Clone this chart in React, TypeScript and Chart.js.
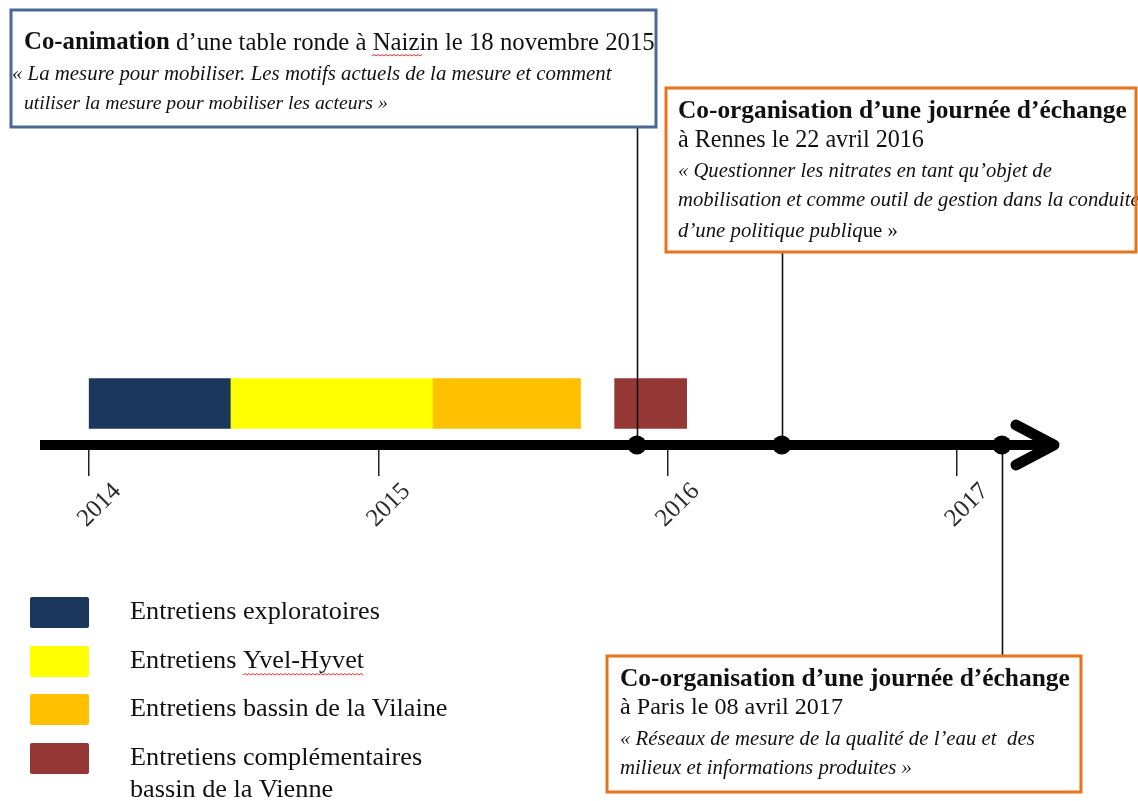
import React, { useEffect, useRef } from 'react';
import { Chart, registerables } from 'chart.js';

Chart.register(...registerables);

// ---- data ----
const phaseLabels = [
  'Entretiens exploratoires',
  'Entretiens Yvel-Hyvet',
  'Entretiens bassin de la Vilaine',
  'Entretiens complémentaires bassin de la Vienne',
];
const phaseStart = [2014.0, 2014.488, 2015.187, 2015.817];
const phaseEnd = [2014.488, 2015.187, 2015.699, 2016.066];
const phaseColors = ['#1b375d', '#ffff00', '#ffc000', '#953735'];
const eventDates = [2015.894, 2016.395, 2017.156];
const tickYears = [2014, 2015, 2016, 2017];
const axisStart = 2013.83;
const axisEnd = 2017.35;

type Run = { t: string; b?: boolean; i?: boolean };
type Line = { runs: Run[]; y: number; x: number; w: number };

const box1Lines: Line[] = [
  { runs: [{ t: 'Co-animation', b: true }, { t: ' d\u2019une table ronde à Naizin le 18 novembre 2015' }], x: 24, y: 43, w: 631 },
  { runs: [{ t: '« La mesure pour mobiliser. Les motifs actuels de la mesure et comment', i: true }], x: 12, y: 75, w: 600 },
  { runs: [{ t: 'utiliser la mesure pour mobiliser les acteurs »', i: true }], x: 24, y: 104, w: 364 },
];
const box2Lines: Line[] = [
  { runs: [{ t: 'Co-organisation d\u2019une journée d\u2019échange', b: true }], x: 678, y: 111, w: 449 },
  { runs: [{ t: 'à Rennes le 22 avril 2016' }], x: 678, y: 141, w: 246 },
  { runs: [{ t: '« Questionner les nitrates en tant qu\u2019objet de', i: true }], x: 678, y: 172, w: 374 },
  { runs: [{ t: 'mobilisation et comme outil de gestion dans la conduite', i: true }], x: 678, y: 201, w: 462 },
  { runs: [{ t: 'd\u2019une politique publiq', i: true }, { t: 'ue »' }], x: 678, y: 232, w: 220 },
];
const box3Lines: Line[] = [
  { runs: [{ t: 'Co-organisation d\u2019une journée d\u2019échange', b: true }], x: 620, y: 679, w: 450 },
  { runs: [{ t: 'à Paris le 08 avril 2017' }], x: 620, y: 708, w: 223 },
  { runs: [{ t: '« Réseaux de mesure de la qualité de l\u2019eau et  des', i: true }], x: 620, y: 740, w: 415 },
  { runs: [{ t: 'milieux et informations produites »', i: true }], x: 620, y: 769, w: 292 },
];

const FAMILY = '"Liberation Serif", "DejaVu Serif", serif';

function fontOf(r: Run, size: number) {
  return `${r.i ? 'italic ' : ''}${r.b ? 'bold ' : ''}${size}px ${FAMILY}`;
}
function runsWidth(ctx: CanvasRenderingContext2D, runs: Run[], size: number) {
  let w = 0;
  for (const r of runs) {
    ctx.font = fontOf(r, size);
    w += ctx.measureText(r.t).width;
  }
  return w;
}
function drawLine(ctx: CanvasRenderingContext2D, l: Line) {
  const size = (20 * l.w) / runsWidth(ctx, l.runs, 20);
  let cx = l.x;
  ctx.textBaseline = 'middle';
  ctx.textAlign = 'left';
  ctx.fillStyle = '#111';
  for (const r of l.runs) {
    ctx.font = fontOf(r, size);
    ctx.fillText(r.t, cx, l.y);
    cx += ctx.measureText(r.t).width;
  }
}
function squiggle(ctx: CanvasRenderingContext2D, x1: number, x2: number, y: number) {
  ctx.save();
  ctx.strokeStyle = '#e03030';
  ctx.lineWidth = 1;
  ctx.beginPath();
  let up = true;
  ctx.moveTo(x1, y);
  for (let x = x1 + 2; x <= x2; x += 2) {
    ctx.lineTo(x, up ? y - 1.5 : y);
    up = !up;
  }
  ctx.stroke();
  ctx.restore();
}
function drawBox(ctx: CanvasRenderingContext2D, x: number, y: number, w: number, h: number, color: string, lines: Line[]) {
  ctx.save();
  ctx.fillStyle = '#fff';
  ctx.fillRect(x, y, w, h);
  lines.forEach((l) => drawLine(ctx, l));
  ctx.strokeStyle = color;
  ctx.lineWidth = 3;
  ctx.strokeRect(x, y, w, h);
  ctx.restore();
}

const timelinePlugin = {
  id: 'timelineDecor',
  beforeDatasetDraw(chart: any, args: any) {
    if (args.index !== 0) return;
    const ctx: CanvasRenderingContext2D = chart.ctx;
    const xs = chart.scales.x;
    const ys = chart.scales.y;
    const y0 = ys.getPixelForValue(0);
    // arrow head
    const tip = xs.getPixelForValue(axisEnd);
    ctx.save();
    ctx.strokeStyle = '#000';
    ctx.lineWidth = 11;
    ctx.lineCap = 'round';
    ctx.lineJoin = 'round';
    ctx.beginPath();
    ctx.moveTo(tip - 42, y0 - 20);
    ctx.lineTo(tip - 4, y0);
    ctx.lineTo(tip - 42, y0 + 20);
    ctx.stroke();
    // connectors
    ctx.lineWidth = 1.6;
    ctx.lineCap = 'butt';
    ctx.strokeStyle = '#111';
    const targets = [127, 252, 656];
    eventDates.forEach((d, i) => {
      const px = Math.round(xs.getPixelForValue(d)) + 0.5;
      ctx.beginPath();
      ctx.moveTo(px, y0);
      ctx.lineTo(px, targets[i]);
      ctx.stroke();
    });
    ctx.restore();
  },
  afterDraw(chart: any) {
    const ctx: CanvasRenderingContext2D = chart.ctx;
    drawBox(ctx, 11, 10, 645, 117, '#4a6892', box1Lines);
    squiggle(ctx, 372, 423, 56);
    drawBox(ctx, 666, 88, 470, 164, '#e8731a', box2Lines);
    drawBox(ctx, 607, 656, 474, 136, '#e8731a', box3Lines);

    // legend from bar datasets
    const bars = chart.data.datasets.filter((d: any) => d.type === 'bar');
    ctx.save();
    const base = 20;
    ctx.font = `${base}px ${FAMILY}`;
    const size = (base * 250) / ctx.measureText(bars[0].label).width;
    ctx.font = `${size}px ${FAMILY}`;
    ctx.textBaseline = 'middle';
    ctx.textAlign = 'left';
    const rows = [597, 646, 694, 743];
    bars.forEach((d: any, i: number) => {
      const top = rows[i];
      ctx.fillStyle = d.backgroundColor;
      ctx.beginPath();
      (ctx as any).roundRect(30, top, 59, 31, 2);
      ctx.fill();
      ctx.fillStyle = '#111';
      const words = String(d.label).split(' ');
      const lines: string[] = [];
      let cur = '';
      words.forEach((w) => {
        const test = cur ? cur + ' ' + w : w;
        if (ctx.measureText(test).width > 320 && cur) {
          lines.push(cur);
          cur = w;
        } else cur = test;
      });
      lines.push(cur);
      lines.forEach((s, k) => ctx.fillText(s, 130, top + 15 + k * 32));
      if (i === 1) {
        const wE = ctx.measureText('Entretiens ').width;
        const wAll = ctx.measureText(String(d.label)).width;
        squiggle(ctx, 130 + wE, 130 + wAll, top + 29);
      }
    });
    ctx.restore();
  },
};

export default function App() {
  const ref = useRef<HTMLCanvasElement>(null);
  useEffect(() => {
    document.body.style.margin = '0';
    const canvas = ref.current!;
    const chart = new Chart(canvas, {
      type: 'bar',
      data: {
        datasets: [
          {
            type: 'scatter',
            label: 'événements',
            data: eventDates.map((d) => ({ x: d, y: 0 })),
            pointRadius: 9.5,
            pointHoverRadius: 9.5,
            pointBackgroundColor: '#000',
            pointBorderWidth: 0,
            clip: false,
            order: 0,
            indexAxis: 'x',
          } as any,
          {
            type: 'line',
            label: 'axe',
            data: [
              { x: axisStart, y: 0 },
              { x: axisEnd - 0.03, y: 0 },
            ],
            borderColor: '#000',
            borderWidth: 10,
            pointRadius: 0,
            clip: false,
            order: 1,
            indexAxis: 'x',
          } as any,
          ...phaseLabels.map(
            (l, i) =>
              ({
                type: 'bar',
                label: l,
                data: [{ y: 1, x: [phaseStart[i], phaseEnd[i]] }],
                backgroundColor: phaseColors[i],
                borderWidth: 0,
                barThickness: 50,
                grouped: false,
                order: 2,
              } as any)
          ),
        ],
      },
      options: {
        indexAxis: 'y',
        animation: false,
        responsive: true,
        maintainAspectRatio: false,
        events: [],
        layout: { padding: { left: 40, right: 80, top: 0, bottom: 0 } },
        plugins: { legend: { display: false }, tooltip: { enabled: false } },
        scales: {
          x: {
            type: 'linear',
            min: axisStart,
            max: axisEnd,
            offset: false,
            afterBuildTicks: (s: any) => {
              s.ticks = tickYears.map((v) => ({ value: v }));
            },
            afterFit: (s: any) => {
              s.height = 356;
              s.paddingLeft = 0;
              s.paddingRight = 0;
            },
            grid: { drawOnChartArea: false, drawTicks: true, tickLength: 31, color: '#222', lineWidth: 1.5 },
            border: { display: false },
            ticks: {
              autoSkip: false,
              minRotation: 45,
              maxRotation: 45,
              labelOffset: 28,
              padding: 1,
              color: '#2a2a2a',
              font: { family: FAMILY, size: 25 },
              callback: (v: any) => String(v),
            },
          },
          y: { type: 'linear', display: false, min: 0, max: 10.5, offset: false },
        },
      } as any,
      plugins: [timelinePlugin],
    });
    return () => chart.destroy();
  }, []);
  return (
    <div style={{ position: 'relative', width: 1138, height: 801, background: '#fff' }}>
      <canvas ref={ref} />
    </div>
  );
}
